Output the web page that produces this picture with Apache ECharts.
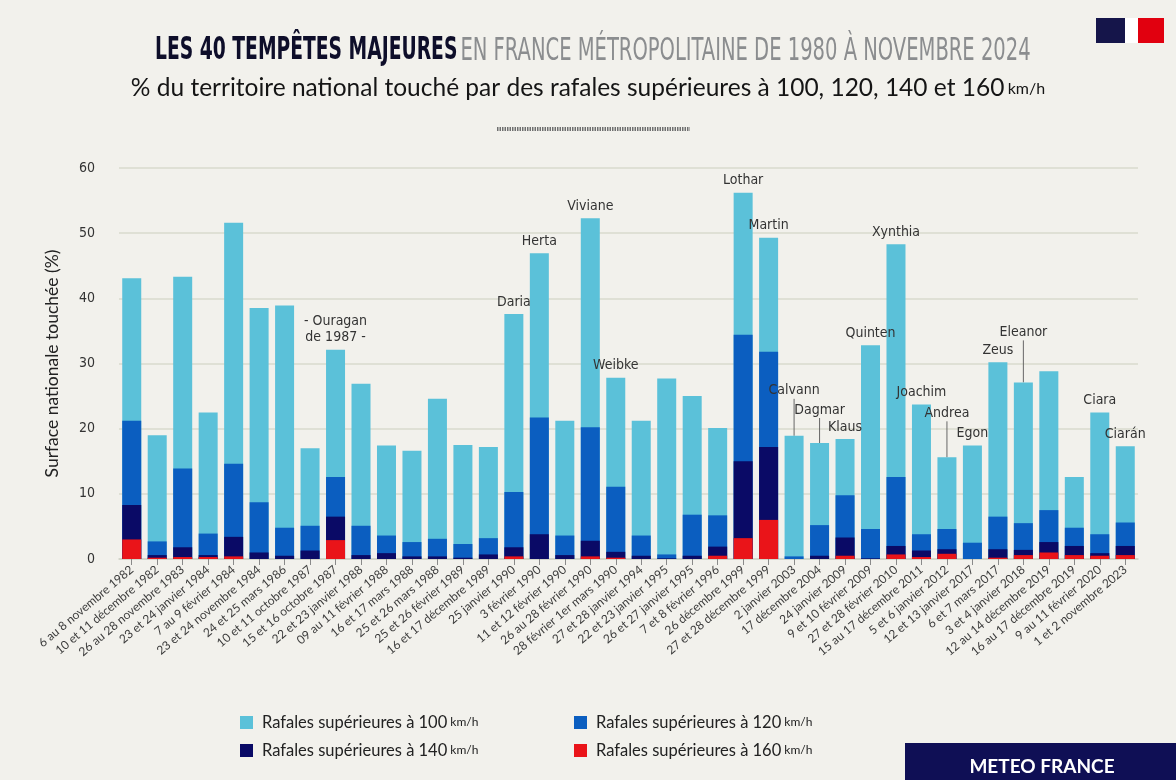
<!DOCTYPE html>
<html>
<head>
<meta charset="utf-8">
<title>Les 40 tempêtes majeures</title>
<script src="https://cdn.jsdelivr.net/npm/echarts@6/dist/echarts.min.js"></script>
<style>
    html, body { margin: 0; padding: 0; background: #f2f1ec; }
    #chart { width: 1176px; height: 780px; }
</style>
</head>
<body>
<div id="chart"></div>
<script>
var stormDates = [
    '6 au 8 novembre 1982', '10 et 11 décembre 1982', '26 au 28 novembre 1983', '23 et 24 janvier 1984',
    '7 au 9 février 1984', '23 et 24 novembre 1984', '24 et 25 mars 1986', '10 et 11 octobre 1987',
    '15 et 16 octobre 1987', '22 et 23 janvier 1988', '09 au 11 février 1988', '16 et 17 mars 1988',
    '25 et 26 mars 1988', '25 et 26 février 1989', '16 et 17 décembre 1989', '25 janvier 1990',
    '3 février 1990', '11 et 12 février 1990', '26 au 28 février 1990', '28 février 1er mars 1990',
    '27 et 28 janvier 1994', '22 et 23 janvier 1995', '26 et 27 janvier 1995', '7 et 8 février 1996',
    '26 décembre 1999', '27 et 28 décembre 1999', '2 janvier 2003', '17 décembre 2004',
    '24 janvier 2009', '9 et 10 février 2009', '27 et 28 février 2010', '15 au 17 décembre 2011',
    '5 et 6 janvier 2012', '12 et 13 janvier 2017', '6 et 7 mars 2017', '3 et 4 janvier 2018',
    '12 au 14 décembre 2019', '16 au 17 décembre 2019', '9 au 11 février 2020', '1 et 2 novembre 2023'
];

var stormNames = [
    '', '', '', '', '', '', '', '', '- Ouragan\nde 1987 -', '',
    '', '', '', '', '', 'Daria', 'Herta', '', 'Viviane', 'Weibke',
    '', '', '', '', 'Lothar', 'Martin', 'Calvann', 'Dagmar', 'Klaus', 'Quinten',
    'Xynthia', 'Joachim', 'Andrea', 'Egon', 'Zeus', 'Eleanor', '', '', 'Ciara', 'Ciarán'
];

// % du territoire touché
var gust100 = [43.1, 19.0, 43.3, 22.5, 51.6, 38.5, 38.9, 17.0, 32.1, 26.9,
    17.4, 16.6, 24.6, 17.5, 17.2, 37.6, 46.9, 21.2, 52.3, 27.8,
    21.2, 27.7, 25.0, 20.1, 56.2, 49.3, 18.9, 17.8, 18.4, 32.8,
    48.3, 23.7, 15.6, 17.4, 30.2, 27.1, 28.8, 12.6, 22.5, 17.3];
var gust120 = [21.2, 2.7, 13.9, 3.9, 14.6, 8.7, 4.8, 5.1, 12.6, 5.1,
    3.6, 2.6, 3.1, 2.3, 3.2, 10.3, 21.7, 3.6, 20.2, 11.1,
    3.6, 0.7, 6.8, 6.7, 34.4, 31.8, 0.4, 5.2, 9.8, 4.6,
    12.6, 3.8, 4.6, 2.5, 6.5, 5.5, 7.5, 4.8, 3.8, 5.6];
var gust140 = [8.3, 0.6, 1.8, 0.6, 3.4, 1.0, 0.5, 1.3, 6.5, 0.6,
    0.9, 0.4, 0.4, 0.2, 0.7, 1.8, 3.8, 0.6, 2.8, 1.1,
    0.5, 0.1, 0.5, 1.9, 15.0, 17.2, 0, 0.5, 3.3, 0.1,
    2.0, 1.3, 1.5, 0, 1.5, 1.4, 2.6, 2.0, 0.9, 2.0];
var gust160 = [3.0, 0.2, 0.3, 0.3, 0.4, 0, 0, 0, 2.9, 0,
    0, 0, 0, 0, 0, 0.4, 0, 0, 0.4, 0.2,
    0, 0, 0, 0.5, 3.2, 6.0, 0, 0, 0.5, 0,
    0.7, 0.3, 0.8, 0, 0.2, 0.6, 1.0, 0.6, 0.5, 0.6];

var yTicks = [0, 60, 10];

var narrowFont = '"Liberation Sans Narrow", "DejaVu Sans Condensed", sans-serif';
var bodyFont = 'Lato, "Noto Sans", sans-serif';

// names lifted above their bar with a small guide line
var leaderShift = { 26: -33, 27: -21, 32: -32, 35: -38 };

var seriesDefs = [
    { name: 'Rafales supérieures à 100 km/h', data: gust100, color: '#5bc1d9' },
    { name: 'Rafales supérieures à 120 km/h', data: gust120, color: '#0b5ec0' },
    { name: 'Rafales supérieures à 140 km/h', data: gust140, color: '#0a0a66' },
    { name: 'Rafales supérieures à 160 km/h', data: gust160, color: '#ea1419' }
];

function namedData(values) {
    return values.map(function (v, i) {
        return {
            value: v,
            label: { show: stormNames[i] !== '' },
            labelLine: { show: leaderShift[i] !== undefined }
        };
    });
}

function buildSeries() {
    return seriesDefs.map(function (def, index) {
        var s = {
            name: def.name,
            type: 'bar',
            data: index === 0 ? namedData(def.data) : def.data,
            barWidth: 19,
            barGap: '-100%',
            itemStyle: { color: def.color },
            emphasis: { disabled: true }
        };
        if (index === 0) {
            s.label = {
                show: true,
                position: 'top',
                distance: 4,
                fontFamily: narrowFont,
                fontSize: 14,
                lineHeight: 16,
                color: '#333',
                formatter: function (p) {
                    return stormNames[p.dataIndex];
                }
            };
            s.labelLayout = function (p) {
                var dy = leaderShift[p.dataIndex];
                return dy ? { dy: dy } : {};
            };
            s.labelLine = { show: false, length2: 0, lineStyle: { color: '#666', width: 1 } };
        }
        return s;
    });
}

function legendAt(name, left, top) {
    return {
        data: [name],
        left: left,
        top: top,
        padding: 0,
        icon: 'rect',
        itemWidth: 13,
        itemHeight: 13,
        itemGap: 0,
        selectedMode: false,
        formatter: function (n) {
            return '{a|' + n.replace(' km/h', '') + '} {b|km/h}';
        },
        textStyle: {
            rich: {
                a: { fontFamily: bodyFont, fontSize: 16.5, color: '#222', padding: [0, 0, 0, 4] },
                b: { fontFamily: bodyFont, fontSize: 12, color: '#222' }
            }
        }
    };
}

var chart = echarts.init(document.getElementById('chart'));

var option = {
    backgroundColor: '#f2f1ec',
    animation: false,
    textStyle: { fontFamily: bodyFont },
    graphic: [
        {
            type: 'text',
            x: 155,
            y: 35,
            scaleX: 0.905,
            scaleY: 1.35,
            style: {
                text: '{a|LES 40 TEMPÊTES MAJEURES} {b|EN FRANCE MÉTROPOLITAINE DE 1980 À NOVEMBRE 2024}',
                align: 'left',
                verticalAlign: 'top',
                rich: {
                    a: { fontFamily: narrowFont, fontWeight: 'bold', fontSize: 23, fill: '#0e0e2a' },
                    b: { fontFamily: narrowFont, fontSize: 24, fill: '#8b8d8f' }
                }
            }
        },
        {
            type: 'text',
            left: 'center',
            top: 76,
            style: {
                text: '{a|% du territoire national touché par des rafales supérieures à 100, 120, 140 et 160} {b|km/h}',
                rich: {
                    a: { fontFamily: bodyFont, fontSize: 24.5, fill: '#151515' },
                    b: { fontFamily: bodyFont, fontSize: 16, fill: '#151515' }
                }
            }
        },
        {
            type: 'line',
            shape: { x1: 497, y1: 129, x2: 690, y2: 129 },
            style: { stroke: '#6f6f6f', lineWidth: 4, lineDash: [1.5, 1] }
        },
        { type: 'rect', shape: { x: 1096, y: 18, width: 29, height: 25 }, style: { fill: '#15154a' } },
        { type: 'rect', shape: { x: 1125, y: 18, width: 13, height: 25 }, style: { fill: '#ffffff' } },
        { type: 'rect', shape: { x: 1138, y: 18, width: 26, height: 25 }, style: { fill: '#e1000f' } },
        { type: 'rect', shape: { x: 905, y: 743, width: 271, height: 37 }, style: { fill: '#0f0f55' } },
        {
            type: 'text',
            x: 1042,
            y: 767,
            style: {
                text: 'METEO FRANCE',
                align: 'center',
                verticalAlign: 'middle',
                fontFamily: bodyFont,
                fontWeight: 'bold',
                fontSize: 19,
                fill: '#ffffff'
            }
        }
    ],
    legend: [
        legendAt(seriesDefs[0].name, 240, 714),
        legendAt(seriesDefs[1].name, 574, 714),
        legendAt(seriesDefs[2].name, 240, 742),
        legendAt(seriesDefs[3].name, 574, 742)
    ],
    grid: { left: 119, right: 38, top: 168, bottom: 221 },
    xAxis: {
        type: 'category',
        data: stormDates,
        axisLine: { show: true, lineStyle: { color: '#cfd1c6', width: 1.5 } },
        axisTick: { show: true, alignWithLabel: true, length: 6, lineStyle: { color: '#8a8a8a' } },
        axisLabel: { interval: 0, rotate: 40, fontSize: 12, color: '#3c3c3c', margin: 9 }
    },
    yAxis: {
        type: 'value',
        min: yTicks[0],
        max: yTicks[1],
        interval: yTicks[2],
        name: 'Surface nationale touchée (%)',
        nameLocation: 'middle',
        nameGap: 58,
        nameTextStyle: { fontFamily: bodyFont, fontSize: 17.5, color: '#222' },
        axisLine: { show: false },
        axisTick: { show: false },
        axisLabel: { fontFamily: narrowFont, fontSize: 14, color: '#333', margin: 24 },
        splitLine: { lineStyle: { color: '#d8dace', width: 1.5 } }
    },
    series: buildSeries()
};

chart.setOption(option);
</script>
</body>
</html>
